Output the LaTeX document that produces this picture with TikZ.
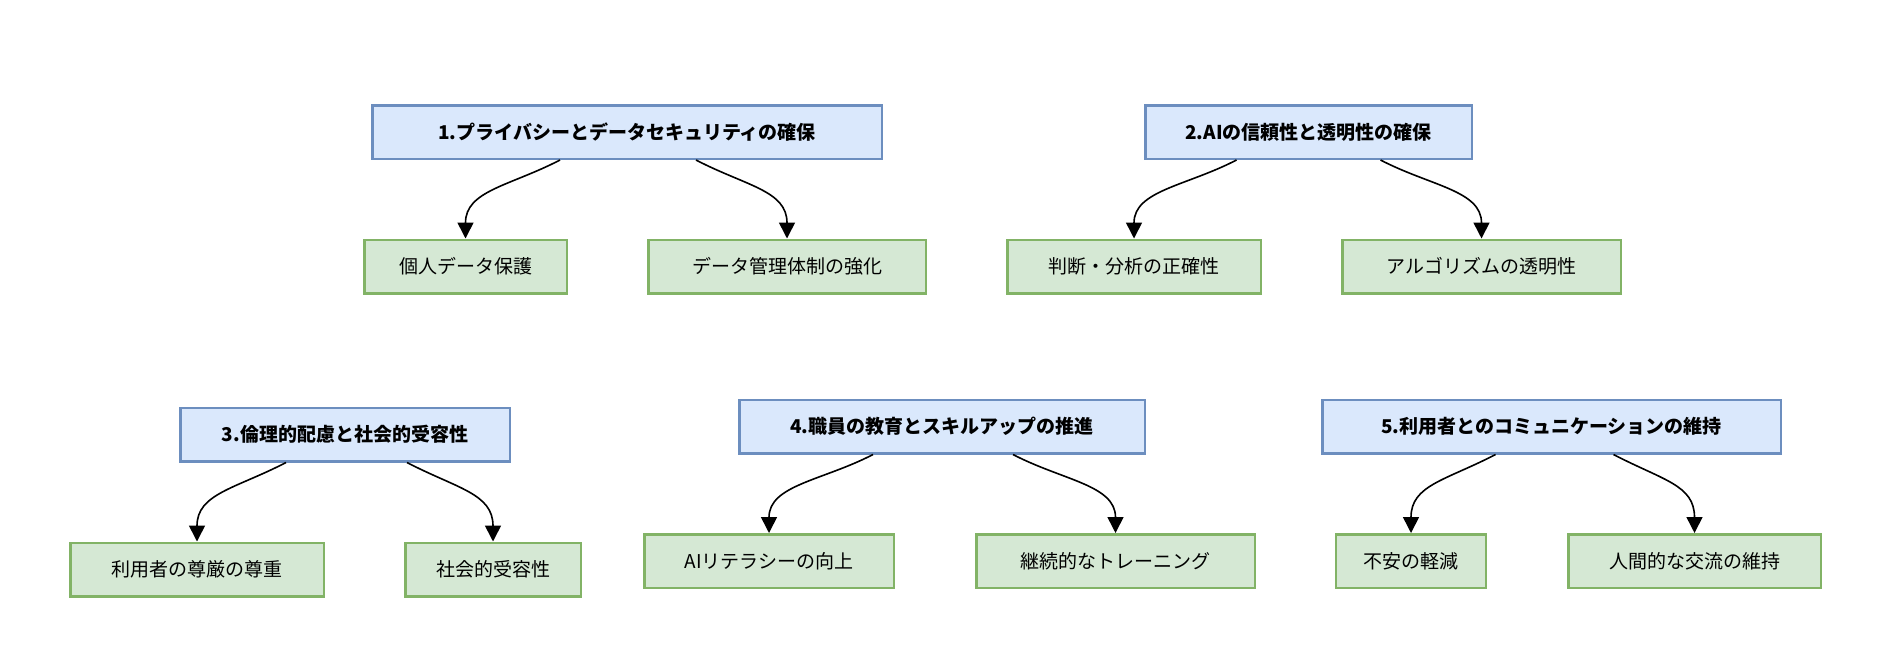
\documentclass[tikz,border=0pt]{standalone}
\usepackage{fontspec}
\setmainfont{Noto Sans CJK JP}
\usetikzlibrary{arrows.meta,calc}
\definecolor{bfill}{HTML}{DAE8FC}
\definecolor{bdraw}{HTML}{6C8EBF}
\definecolor{gfill}{HTML}{D5E8D4}
\definecolor{gdraw}{HTML}{82B366}
\begin{document}
\begin{tikzpicture}[x=1pt,y=-1pt,
  topbox/.style={draw=bdraw, fill=bfill, line width=2.5pt, minimum height=53.5pt, inner sep=0pt, font=\fontsize{19}{22}\selectfont\bfseries},
  subbox/.style={draw=gdraw, fill=gfill, line width=2.5pt, minimum height=53.5pt, inner sep=0pt, font=\fontsize{19}{22}\selectfont},
  conn/.style={line width=1.6pt, -{Triangle[length=16pt,width=16pt]}}]
\useasboundingbox[fill=white] (0,0) rectangle (1890,664);

% group 1
\node[topbox, minimum width=509.5pt] (t1) at (627,132) {1.プライバシーとデータセキュリティの確保};
\node[subbox, minimum width=202.5pt] (c11) at (465.5,266.5) {個人データ保護};
\node[subbox, minimum width=277.5pt] (c12) at (787,266.5) {データ管理体制の強化};
% group 2
\node[topbox, minimum width=326.5pt] (t2) at (1308.5,132) {2.AIの信頼性と透明性の確保};
\node[subbox, minimum width=253.5pt] (c21) at (1134,266.5) {判断・分析の正確性};
\node[subbox, minimum width=278.5pt] (c22) at (1481.5,266.5) {アルゴリズムの透明性};
% group 3
\node[topbox, minimum width=329.5pt] (t3) at (345,434.5) {3.倫理的配慮と社会的受容性};
\node[subbox, minimum width=253.5pt] (c31) at (197,569.5) {利用者の尊厳の尊重};
\node[subbox, minimum width=175.5pt] (c32) at (493,569.5) {社会的受容性};
% group 4
\node[topbox, minimum width=405.5pt] (t4) at (942,426.5) {4.職員の教育とスキルアップの推進};
\node[subbox, minimum width=249.5pt] (c41) at (769,561) {AIリテラシーの向上};
\node[subbox, minimum width=278.5pt] (c42) at (1115.5,561) {継続的なトレーニング};
% group 5
\node[topbox, minimum width=458.5pt] (t5) at (1551.5,426.5) {5.利用者とのコミュニケーションの維持};
\node[subbox, minimum width=150pt] (c51) at (1411,561) {不安の軽減};
\node[subbox, minimum width=252.5pt] (c52) at (1694.5,561) {人間的な交流の維持};

% connector start points on parent bottoms
\foreach \p/\l/\r in {t1/-67/69, t2/-72/72, t3/-59/62, t4/-69/71, t5/-56/62}{
  \coordinate (\p L) at ($(\p.south)+(\l,0)$);
  \coordinate (\p R) at ($(\p.south)+(\r,0)$);
}

\draw[conn] (t1L) .. controls +(-50,26) and +(0,-48) .. (c11.north);
\draw[conn] (t1R) .. controls +(50,26) and +(0,-48) .. (c12.north);
\draw[conn] (t2L) .. controls +(-50,26) and +(0,-48) .. (c21.north);
\draw[conn] (t2R) .. controls +(50,26) and +(0,-48) .. (c22.north);
\draw[conn] (t3L) .. controls +(-50,26) and +(0,-48) .. (c31.north);
\draw[conn] (t3R) .. controls +(50,26) and +(0,-48) .. (c32.north);
\draw[conn] (t4L) .. controls +(-50,26) and +(0,-48) .. (c41.north);
\draw[conn] (t4R) .. controls +(50,26) and +(0,-48) .. (c42.north);
\draw[conn] (t5L) .. controls +(-50,26) and +(0,-48) .. (c51.north);
\draw[conn] (t5R) .. controls +(50,26) and +(0,-48) .. (c52.north);
\end{tikzpicture}
\end{document}
